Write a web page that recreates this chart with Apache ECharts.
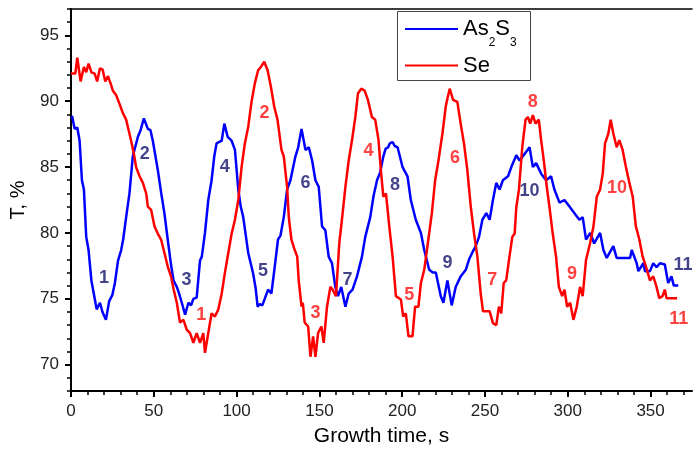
<!DOCTYPE html>
<html>
<head>
<meta charset="utf-8">
<script src="https://cdn.jsdelivr.net/npm/echarts@6/dist/echarts.min.js"></script>
<style>html,body{margin:0;padding:0;background:#fff}#c{width:693px;height:449px}</style>
</head>
<body>
<div id="c"></div>
<script>
// ---- data ----
const asTime = [0.6,2.2,3.8,5.2,6.6,7.8,9.2,10.6,12.3,13.3,14.3,15.5,16.5,17.5,19.0,21.1,23.0,25.0,26.5,28.4,30.3,31.5,33.3,35.3,37.3,40.4,42.0,44.0,46.4,48.0,49.4,52.4,54.5,56.4,58.4,60.4,61.9,63.9,65.0,66.9,68.9,70.9,72.5,73.9,75.9,77.9,79.0,80.9,82.9,84.9,86.5,87.9,91.0,92.6,94.6,97.0,99.0,101.0,102.5,104.0,107.0,110.0,111.5,112.7,114.0,115.5,117.0,119.0,121.0,123.0,125.0,126.5,128.5,130.5,132.5,135.5,137.2,139.2,141.6,143.6,145.6,147.6,149.6,151.6,153.6,155.6,157.6,159.6,161.2,163.2,165.7,167.7,170.0,172.7,175.7,177.7,180.7,182.7,184.8,186.7,188.6,190.0,191.5,192.5,194.2,195.5,197.2,200.2,203.2,205.2,208.2,211.3,213.3,216.3,218.5,220.3,223.3,224.9,227.3,229.9,232.3,235.3,238.4,240.4,242.3,244.4,246.4,248.4,250.8,252.8,254.8,256.8,258.8,260.8,263.9,265.9,268.9,270.9,273.9,276.9,278.9,280.9,283.9,286.9,289.9,291.9,295.0,298.0,301.0,304.0,307.0,309.0,311.0,313.6,315.9,319.5,321.5,323.5,327.5,329.5,337.6,338.6,341.6,342.6,345.6,346.6,349.6,351.6,353.6,355.6,358.6,360.6,362.6,364.0,366.7];
const asT = [88.9,87.9,88.0,87.0,84.0,83.3,79.7,78.7,76.4,75.7,75.6,74.2,74.3,74.7,74.0,73.4,74.8,75.3,76.2,77.9,78.7,79.5,81.2,83.0,85.8,87.3,87.8,88.7,87.9,87.8,87.0,84.8,83.0,81.5,79.5,77.6,76.4,75.9,75.5,74.7,73.8,74.7,74.5,75.0,75.1,77.9,78.2,80.0,82.5,84.0,85.8,86.8,87.0,88.3,87.3,87.0,86.3,83.3,82.0,81.2,78.5,76.9,75.8,74.4,74.6,74.5,75.0,75.7,75.4,77.4,79.5,79.8,81.2,83.3,84.0,85.8,86.5,87.9,86.3,86.5,85.5,84.0,83.5,80.5,80.2,78.2,77.7,75.9,75.2,75.9,74.4,75.4,75.7,76.7,78.2,79.7,81.2,82.8,84.0,84.6,85.8,86.4,86.5,86.8,86.9,86.6,86.5,85.0,84.3,82.5,81.0,80.0,78.7,77.2,77.0,77.0,75.2,74.7,76.4,74.5,75.9,76.7,77.2,78.0,78.5,79.0,79.7,81.0,81.5,81.0,82.5,83.8,83.3,84.0,84.3,85.0,85.9,85.5,86.0,86.5,85.0,85.3,84.5,84.0,84.3,83.3,82.3,82.5,82.0,81.5,81.0,81.2,79.5,80.0,79.2,80.0,78.7,78.1,79.0,78.1,78.1,78.7,77.7,77.1,77.7,77.1,77.1,77.7,77.4,77.7,77.6,76.2,76.7,76.0,76.0];
const seTime = [0,2.6,3.8,5.8,7.8,9.2,10.6,12.3,14.3,15.8,17.5,19.1,20.7,22.3,23.9,25.3,27.3,29.3,31.3,33.3,34.8,36.3,38.0,39.3,41.4,43.4,45.4,46.4,48.4,50.4,52.4,54.4,56.4,58.4,60.4,62.0,63.9,65.8,67.9,69.9,71.9,73.9,75.9,77.9,79.9,80.9,82.9,84.9,86.9,89.0,91.0,92.9,95.0,97.0,99.0,101.0,103.0,105.0,107.0,109.0,111.0,113.0,114.7,116.7,118.7,120.7,122.7,124.7,127.1,128.5,130.5,131.5,133.1,135.1,136.6,137.5,139.2,140.0,141.1,143.2,144.6,146.2,147.6,149.2,151.2,152.6,154.6,156.6,158.0,160.0,162.0,163.6,165.7,167.7,169.7,171.7,173.3,175.3,177.3,179.3,181.7,183.7,185.7,187.3,188.6,190.2,192.2,194.2,196.2,199.2,200.6,202.2,203.8,206.2,207.8,209.8,211.3,213.3,215.2,217.9,219.9,221.9,224.3,226.3,227.3,228.7,230.7,233.3,235.3,237.3,239.3,241.4,243.4,245.4,247.4,248.8,252.8,254.8,256.8,258.4,259.8,261.3,262.8,264.5,266.5,267.9,268.9,270.5,272.5,274.5,275.9,277.3,278.9,280.5,282.5,283.9,285.5,287.3,288.9,290.9,292.9,294.6,296.6,298.0,299.6,301.4,303.4,305.4,307.4,309.0,311.0,313.4,315.5,317.5,319.5,321.1,322.5,324.5,325.9,327.5,329.5,331.1,333.1,335.1,337.2,339.2,341.1,343.2,345.2,347.2,349.6,351.6,353.6,355.2,357.2,358.6,359.6,366.0];
const seT = [92.1,92.1,93.3,91.5,92.6,92.2,92.85,92.2,92.1,91.5,92.5,92.4,91.5,91.9,91.35,90.8,90.45,89.8,89.1,88.6,87.8,87.0,86.0,85.0,84.3,83.8,83.0,82.0,81.75,80.5,79.95,79.5,78.5,77.45,76.7,75.7,74.7,73.2,73.4,72.65,72.4,71.65,72.4,71.65,72.4,70.9,72.4,73.9,73.65,74.2,75.4,76.95,78.5,79.95,81.0,82.5,85.0,86.8,88.05,89.95,91.35,92.35,92.6,93.0,92.35,91.1,89.6,88.6,86.3,85.8,83.5,81.2,79.5,78.7,78.2,76.4,74.4,74.7,73.2,72.9,70.6,72.15,70.6,72.4,72.9,71.65,74.4,75.9,75.7,75.2,79.2,81.0,83.5,85.5,87.05,88.8,90.6,90.95,90.8,90.1,88.8,88.6,87.05,84.5,82.75,83.0,80.5,78.2,75.2,74.95,73.65,73.9,72.15,72.15,74.4,74.4,76.2,77.2,78.95,81.5,84.0,85.5,87.55,89.6,90.2,90.95,90.1,89.95,88.3,86.8,84.8,82.0,79.95,78.2,75.4,74.05,74.05,73.15,73.0,74.4,73.9,76.2,76.4,77.95,79.7,79.95,81.95,83.3,86.5,88.6,88.8,88.3,88.95,88.3,88.6,87.05,85.5,83.5,82.0,79.95,78.2,75.9,75.2,75.7,74.4,74.7,73.4,74.4,75.9,75.2,77.95,79.2,80.5,82.75,83.3,84.5,86.8,87.55,88.6,87.55,86.5,87.05,86.3,85.0,83.8,82.75,80.5,79.5,78.2,77.45,76.4,76.7,75.9,75.05,75.2,75.7,75.05,75.05];
const labelNums = ['1','2','3','4','5','6','7','8','9','10','11'];
const asLabelTime = [19.9,44.6,69.7,92.8,115.9,141.6,167.0,195.6,227.3,276.9,369.5];
const asLabelT = [76.6,86.0,76.4,85.0,77.1,83.8,76.4,83.6,77.7,83.2,77.6];
const seLabelTime = [78.7,116.9,147.6,179.7,204.2,231.9,254.4,278.9,302.6,329.7,367.0];
const seLabelT = [73.8,89.1,73.9,86.2,75.3,85.7,76.4,89.95,76.9,83.4,73.5];
const xTickLabels = [0,50,100,150,200,250,300,350];
const xMinorTicks = [0,10,20,30,40,50,60,70,80,90,100,110,120,130,140,150,160,170,180,190,200,210,220,230,240,250,260,270,280,290,300,310,320,330,340,350,360,370];
const yTickLabels = [70,75,80,85,90,95];
const yMinorTicks = [68,69,70,71,72,73,74,75,76,77,78,79,80,81,82,83,84,85,86,87,88,89,90,91,92,93,94,95,96,97];
const seriesNames = ['As2S3','Se'];

// ---- chart ----
const FONT = 'Arial, "Liberation Sans", sans-serif';
const zip = (a, b) => a.map((v, i) => [v, b[i]]);
const chart = echarts.init(document.getElementById('c'), null, {renderer: 'canvas'});
const labelSeries = (name, xs, ys, color) => ({
  name, type: 'scatter', silent: true, symbolSize: 1, z: 5,
  itemStyle: {color: 'rgba(0,0,0,0)'},
  data: xs.map((x, i) => ({value: [x, ys[i]], label: {formatter: labelNums[i]}})),
  label: {show: true, position: 'inside', color, fontSize: 18, fontWeight: 'bold', fontFamily: FONT},
  clip: false
});
chart.setOption({
  animation: false,
  backgroundColor: '#fff',
  grid: {left: 71, right: 1, top: 9, bottom: 58, containLabel: false, outerBoundsMode: 'none'},
  legend: {
    data: seriesNames, orient: 'vertical', left: 405, top: 9.5, padding: 0, itemGap: 6,
    icon: 'rect', itemWidth: 53, itemHeight: 2,
    formatter: n => n === 'As2S3' ? '{a|As}{s|2}{a|S}{s|3}' : '{a|Se}',
    textStyle: {
      fontFamily: FONT, color: '#000',
      rich: {
        a: {fontSize: 22, lineHeight: 37, verticalAlign: 'middle', fontFamily: FONT, color: '#000'},
        s: {fontSize: 12, lineHeight: 12, padding: [27, 0, 0, 0], verticalAlign: 'middle', fontFamily: FONT, color: '#000'}
      }
    }
  },
  graphic: [{type: 'rect', shape: {x: 397.5, y: 11.5, width: 133, height: 69}, style: {fill: 'none', stroke: '#444', lineWidth: 1}, z: 100}],
  xAxis: [
    {type: 'value', min: 0, max: 375, position: 'bottom',
     name: 'Growth time, s', nameLocation: 'middle', nameGap: 35, nameMoveOverlap: false,
     nameTextStyle: {fontSize: 21, fontFamily: FONT, color: '#000'},
     axisLine: {show: true, lineStyle: {color: '#000', width: 2}},
     axisTick: {show: true, customValues: xTickLabels, length: 6, lineStyle: {color: '#000', width: 2}},
     axisLabel: {customValues: xTickLabels, fontSize: 17, fontFamily: FONT, color: '#222', margin: 12},
     splitLine: {show: false}},
    {type: 'value', min: 0, max: 375, position: 'bottom',
     axisLine: {show: false},
     axisTick: {show: true, customValues: xMinorTicks, length: 4, lineStyle: {color: '#000', width: 1.5}},
     axisLabel: {show: false}, splitLine: {show: false}},
    {type: 'value', min: 0, max: 375, position: 'top',
     axisLine: {show: true, lineStyle: {color: '#000', width: 1.5}},
     axisTick: {show: false}, axisLabel: {show: false}, splitLine: {show: false}}
  ],
  yAxis: [
    {type: 'value', min: 68, max: 97, position: 'left',
     name: 'T, %', nameLocation: 'middle', nameGap: 43, nameMoveOverlap: false,
     nameTextStyle: {fontSize: 20, fontFamily: FONT, color: '#000'},
     axisLine: {show: true, lineStyle: {color: '#000', width: 2}},
     axisTick: {show: true, customValues: yTickLabels, length: 6, lineStyle: {color: '#000', width: 2}},
     axisLabel: {customValues: yTickLabels, fontSize: 17, fontFamily: FONT, color: '#222', margin: 12},
     splitLine: {show: false}},
    {type: 'value', min: 68, max: 97, position: 'left',
     axisLine: {show: false},
     axisTick: {show: true, customValues: yMinorTicks, length: 4, lineStyle: {color: '#000', width: 1.5}},
     axisLabel: {show: false}, splitLine: {show: false}}
  ],
  series: [
    {name: 'As2S3', type: 'line', data: zip(asTime, asT), showSymbol: false, symbol: 'none',
     lineStyle: {color: '#0000ff', width: 2.5}, itemStyle: {color: '#0000ff'}, z: 2},
    {name: 'Se', type: 'line', data: zip(seTime, seT), showSymbol: false, symbol: 'none',
     lineStyle: {color: '#ff0000', width: 2.5}, itemStyle: {color: '#ff0000'}, z: 3},
    labelSeries('asLabels', asLabelTime, asLabelT, '#14146e'),
    labelSeries('seLabels', seLabelTime, seLabelT, '#ff1010')
  ]
});
</script>
</body>
</html>
